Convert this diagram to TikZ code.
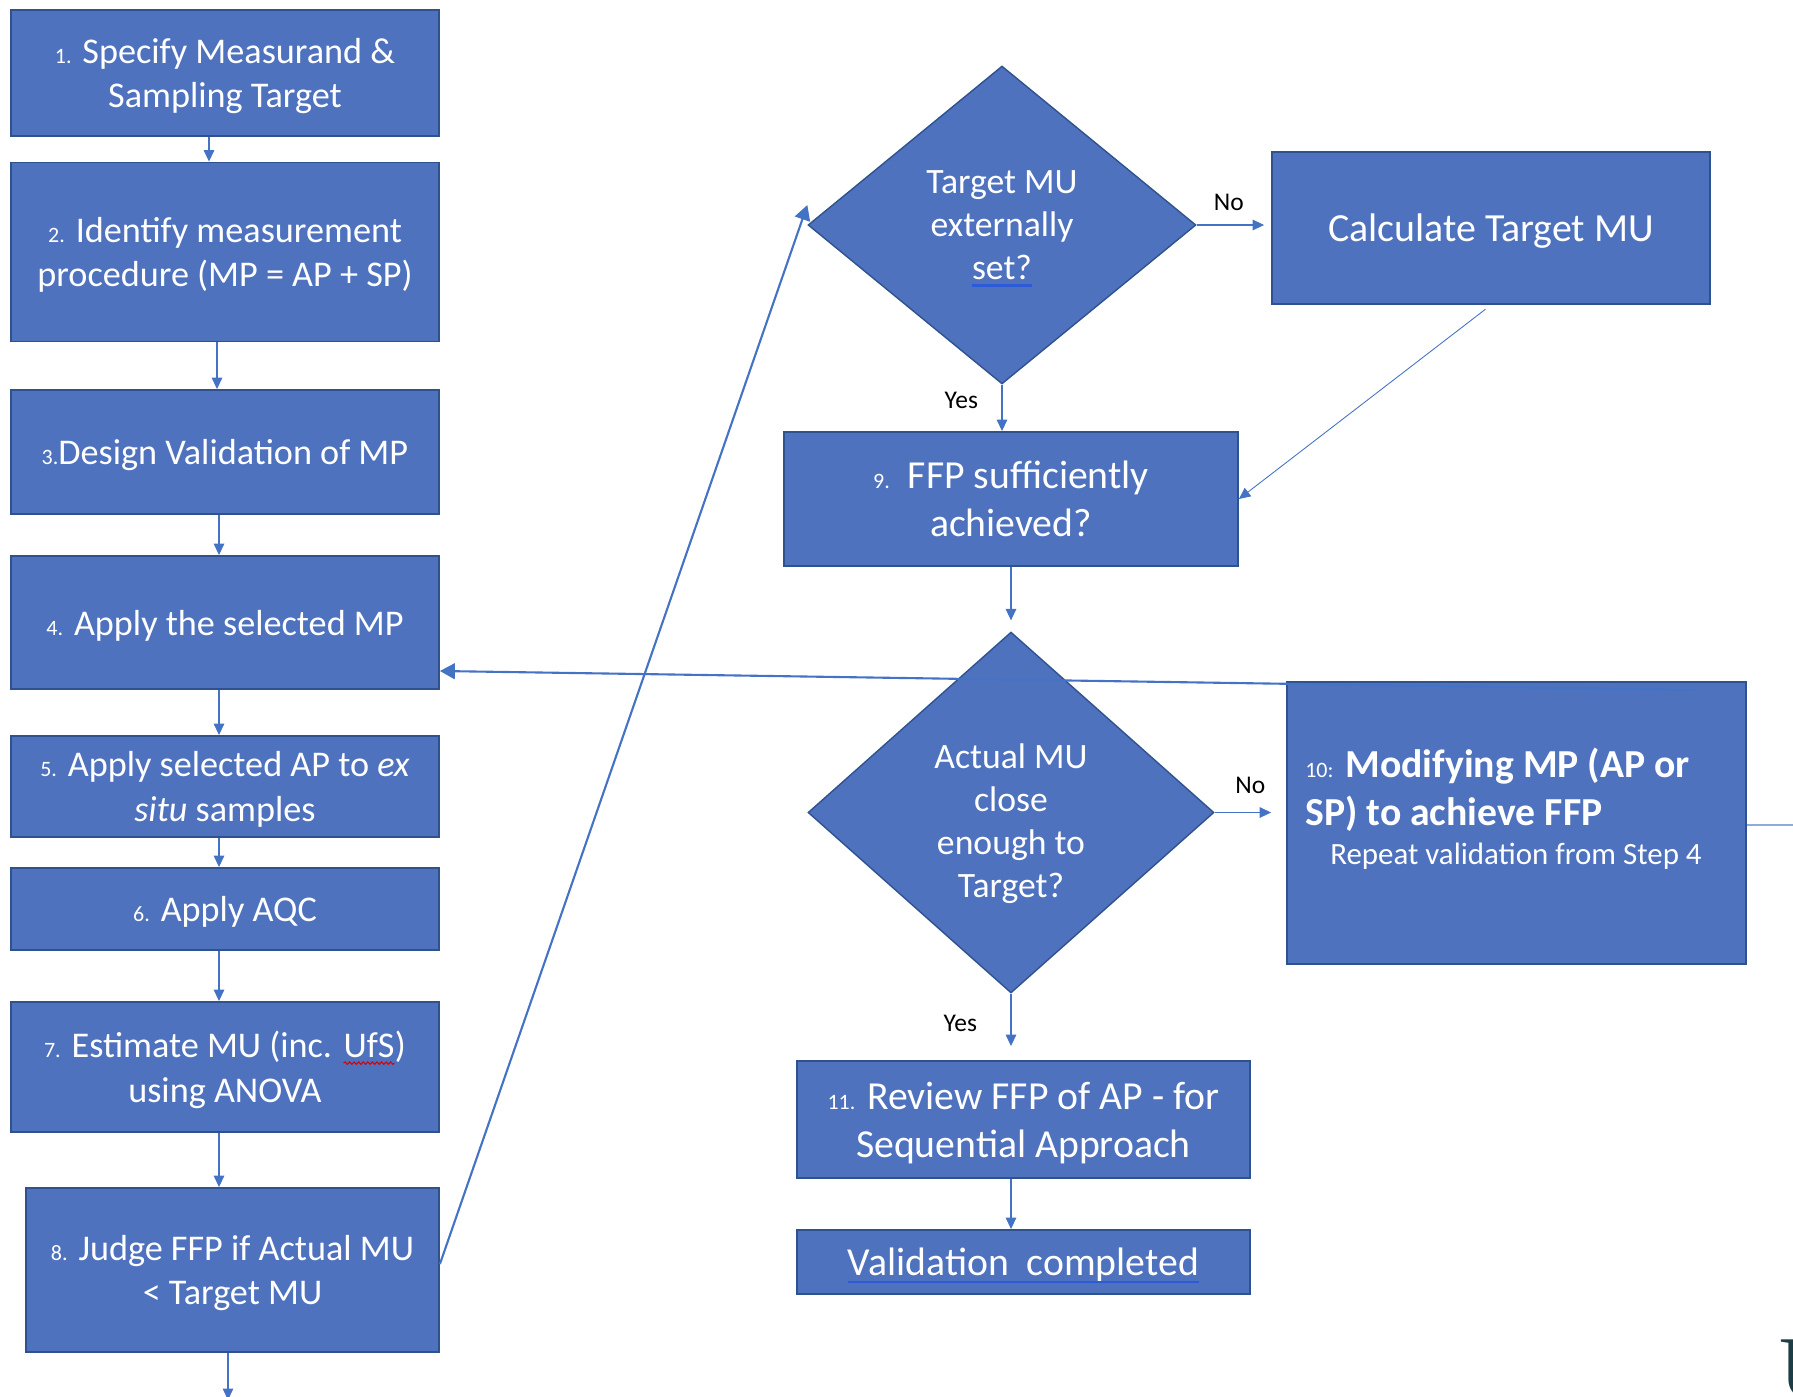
\documentclass[tikz,border=0pt]{standalone}
\usepackage{fontspec}
\setmainfont{Carlito}
\newfontfamily\logofont{Liberation Serif}
\usetikzlibrary{shapes.geometric, arrows.meta, decorations.pathmorphing}

\definecolor{stepfill}{HTML}{4F72BE}
\definecolor{stepline}{HTML}{2F528F}
\definecolor{flowline}{HTML}{4472C4}
\definecolor{linkblue}{HTML}{2D5BD6}
\definecolor{logoteal}{HTML}{1C3E44}

\tikzset{inword/.style={shape=rectangle, draw=none, fill=none, inner sep=0pt, outer sep=0pt,
    minimum width=0pt, minimum height=0pt, text depth=, text=white}}
\newcommand{\stepno}[1]{{\fontsize{12.5}{12.5}\selectfont #1}}
\newcommand{\linkul}[1]{\tikz[baseline=(lk.base)]{\node[inword] (lk) {#1};
    \draw[linkblue, line width=1.3pt] ([yshift=-3.5pt]lk.base west) -- ([yshift=-3.5pt]lk.base east);}}
\newcommand{\spellwave}[1]{\tikz[baseline=(sw.base)]{\node[inword] (sw) {#1};
    \draw[red!85!black, line width=0.6pt, decorate, decoration={snake, amplitude=0.7pt, segment length=2.6pt}] ([yshift=-3pt]sw.base west) -- ([yshift=-3pt]sw.base east);}}

\begin{document}
\begin{tikzpicture}
        [x=0.02cm, y=-0.02cm,
         stepbox/.style={draw=stepline, line width=1.1pt, fill=stepfill, text=white, align=center, inner sep=0pt, text depth=0pt},
         leftbox/.style={stepbox, minimum width=8.56cm, font=\fontsize{20.6}{25.5}\selectfont},
         rightbox/.style={stepbox, minimum width=9.06cm, font=\fontsize{22.6}{27.5}\selectfont},
         decision/.style={stepbox, shape=diamond, line width=0.8pt, font=\fontsize{20.3}{24.4}\selectfont},
         flow/.style={draw=flowline, line width=0.6pt, -{Triangle[length=6.5pt,width=6pt]}},
         backflow/.style={draw=flowline, line width=1.2pt, -{Triangle[length=8.5pt,width=9pt]}},
         answer/.style={text=black, font=\fontsize{14.5}{14.5}\selectfont, inner sep=2pt}]

        \useasboundingbox (0,0) rectangle (1793,1397);

        % left column
        \node[leftbox, minimum height=2.52cm] (s1) at (225,73) {\stepno{1.} Specify Measurand \&\\Sampling Target};
        \node[leftbox, minimum height=3.58cm] (s2) at (225,252) {\stepno{2.} Identify measurement\\procedure (MP = AP + SP)};
        \node[leftbox, minimum height=2.48cm] (s3) at (225,452) {\stepno{3.}Design Validation of MP};
        \node[leftbox, minimum height=2.66cm] (s4) at (225,622.5) {\stepno{4.} Apply the selected MP};
        \node[leftbox, minimum height=2.02cm] (s5) at (225,786.5) {\stepno{5.} Apply selected AP to \textit{ex}\\\textit{situ} samples};
        \node[leftbox, minimum height=1.64cm] (s6) at (225,909) {\stepno{6.} Apply AQC};
        \node[leftbox, minimum height=2.6cm] (s7) at (225,1067) {\stepno{7.} Estimate MU (inc. \spellwave{UfS})\\using ANOVA};
        \node[leftbox, minimum width=8.26cm, minimum height=3.28cm] (s8) at (232.5,1270) {\stepno{8.} Judge FFP if Actual MU\\< Target MU};

        % right side
        \node[decision, minimum width=7.76cm, minimum height=6.36cm] (target) at (1002,225) {Target MU\\externally\\\linkul{set?}};
        \node[rightbox, minimum width=8.76cm, minimum height=3.04cm, font=\fontsize{22.7}{27.5}\selectfont] (calc) at (1491,228) {Calculate Target MU};
        \node[rightbox, minimum width=9.08cm, minimum height=2.68cm] (ffp) at (1011,499) {\stepno{9.}\ \ FFP sufficiently\\achieved?};
        \node[decision, minimum width=8.12cm, minimum height=7.22cm] (actual) at (1011,812.5) {\rule{0pt}{23pt}Actual MU\\close\\enough to\\Target?};
        \node[stepbox, minimum width=9.18cm, minimum height=5.64cm] (modify) at (1516.5,823) {};
        \node[text=white, align=left, anchor=west, inner sep=0pt, font=\fontsize{22.6}{27.5}\selectfont] (modifytxt) at (1305,790) {\stepno{10:} \textbf{Modifying MP (AP or}\\\textbf{SP) to achieve FFP}};
        \node[text=white, inner sep=0pt, font=\fontsize{17.6}{20}\selectfont] (repeat) at (1516,856) {Repeat validation from Step 4};
        \node[rightbox, minimum height=2.34cm] (review) at (1023.5,1119.5) {\stepno{11.} Review FFP of AP - for\\Sequential Approach};
        \node[rightbox, minimum height=1.28cm] (done) at (1023.5,1262) {\linkul{Validation\ \ completed}};

        \node[anchor=base west, inner sep=0pt, text=logoteal, font=\logofont\fontsize{51}{51}\selectfont] (logo) at (1779,1398) {U};

        \coordinate (below) at (228,1400);
        \coordinate (loopback) at (1697,690);
        \coordinate (offpage) at (1793,825);

        \foreach \a/\b/\dx in {s1/s2/-0.32, s2/s3/-0.16, s3/s4/-0.12, s4/s5/-0.12, s5/s6/-0.12, s6/s7/-0.12, s7/s8/-0.12}
          \draw[flow] ([xshift=\dx cm]\a.south) -- ([xshift=\dx cm]\a.south |- \b.north);
        \draw[flow] (s8.south -| below) -- (below);

        \draw[flow, shorten >=0.14cm] (target.east) -- node[answer, above=0.2cm, xshift=-0.1cm] (no1) {No} (target.east -| calc.west);
        \draw[flow] (target.south) -- node[answer, left=0.4cm, pos=0.34] (yes1) {Yes} (target.south |- ffp.north);
        \draw[flow, line width=0.5pt, shorten <=0.14cm] (calc.south) -- (ffp.east);
        \draw[flow, shorten >=0.22cm] (ffp.south) -- (actual.north);
        \draw[flow, shorten >=0.3cm] (actual.east) -- node[answer, above=0.3cm] (no2) {No} (actual.east -| modify.west);
        \draw[flow, shorten >=0.28cm] (actual.south) -- node[answer, left=0.6cm, pos=0.45] (yes2) {Yes} (actual.south |- review.north);
        \draw[flow] (actual.south |- review.south) -- (actual.south |- done.north);
        \draw[draw=flowline!60, line width=0.8pt] (modify.east |- offpage) -- (offpage);

        \draw[backflow] (loopback) -- ([yshift=-0.97cm]s4.east);
        \draw[backflow] ([yshift=0.12cm]s8.east) -- ([yshift=0.4cm]target.west);

      \end{tikzpicture}
\end{document}
